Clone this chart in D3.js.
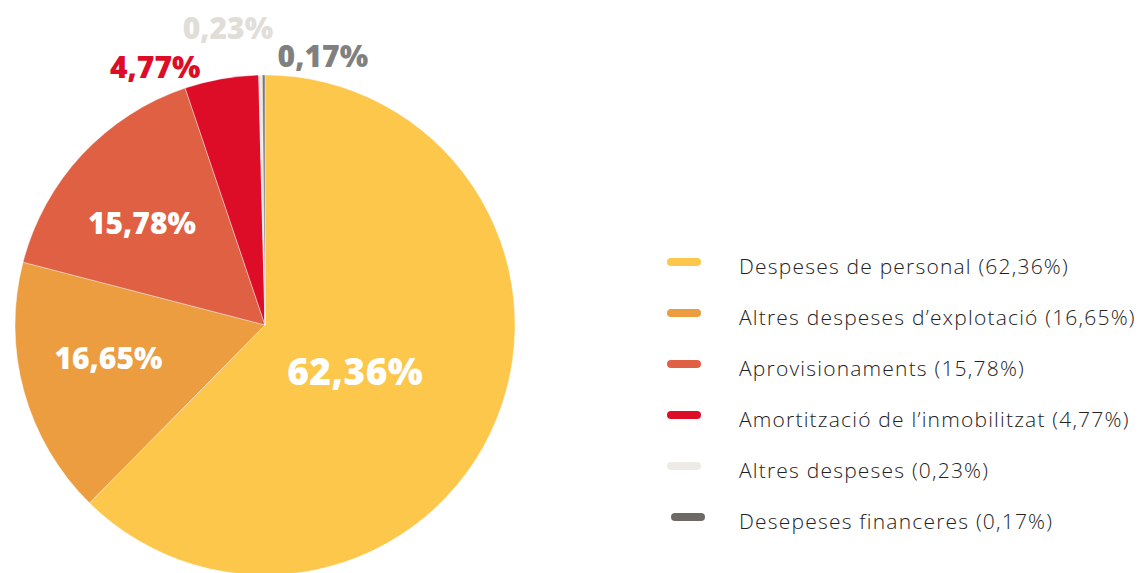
<!DOCTYPE html>
<html><head><meta charset="utf-8">
<script src="https://cdn.jsdelivr.net/npm/d3@7"></script>
<style>
html,body{margin:0;padding:0;background:#fff;overflow:hidden}
svg{display:block}
</style></head>
<body><svg id="c" width="1141" height="573"></svg>
<script>
// ---- data ----
const categories = ["Despeses de personal","Altres despeses d\u2019explotació","Aprovisionaments","Amortització de l\u2019inmobilitzat","Altres despeses","Desepeses financeres"];
const values = [62.36, 16.65, 15.78, 4.77, 0.23, 0.17];
const valueLabels = ["62,36%","16,65%","15,78%","4,77%","0,23%","0,17%"];
const legendLabels = ["Despeses de personal (62,36%)","Altres despeses d\u2019explotació (16,65%)","Aprovisionaments (15,78%)","Amortització de l\u2019inmobilitzat (4,77%)","Altres despeses (0,23%)","Desepeses financeres (0,17%)"];

// ---- styles / layout ----
const colors = ["#FCC74A","#EB9D40","#E06043","#DD0D27","#EEEBE6","#7B7675"];
const legendColors = ["#FCC74A","#EB9D40","#E06043","#DD0D27","#EEEBE6","#6E6867"];
const labelColors = ["#fff","#fff","#fff","#DD0D27","#E1DED9","#808080"];
const labelSizes = [37,30,30,30,30,30];
// label placement: radius & angle (degrees clockwise from top)
const labelPlace = [{r:101,a:116.6},{r:160,a:258.1},{r:160,a:309.7},{r:281,a:-23},{r:300,a:-7.1},{r:276,a:12.1}];

const svg = d3.select("#c");
const cx = 265, cy = 325, R = 250;
const g = svg.append("g").attr("transform",`translate(${cx},${cy})`);

const pie = d3.pie().sort(null).value(d=>d);
const arcs = pie(values);
const arc = d3.arc().innerRadius(0).outerRadius(R);

g.selectAll("path.slice").data(arcs).join("path")
  .attr("class","slice")
  .attr("d",arc)
  .attr("fill",(d,i)=>colors[i])
  .attr("stroke","#fff").attr("stroke-width",0.4);

g.selectAll("text.lbl").data(arcs).join("text")
  .attr("class","lbl")
  .attr("transform",(d,i)=>{
    const p = labelPlace[i];
    const a = p.a*Math.PI/180;
    return `translate(${p.r*Math.sin(a)},${-p.r*Math.cos(a)})`;
  })
  .attr("text-anchor","middle")
  .attr("dominant-baseline","central")
  .attr("font-family","'Open Sans', sans-serif")
  .attr("font-weight",800)
  .attr("font-size",(d,i)=>labelSizes[i])
  .attr("letter-spacing",(d,i)=>i===0?0.5:0)
  .attr("fill",(d,i)=>labelColors[i])
  .text((d,i)=>valueLabels[i]);

// legend
const ly = d3.scalePoint().domain(d3.range(categories.length)).range([266,521]);
const lg = svg.append("g");
const items = lg.selectAll("g").data(categories).join("g")
  .attr("transform",(d,i)=>`translate(0,${ly(i)})`);
items.append("line")
  .attr("x1",(d,i)=>i===5?675:671).attr("x2",(d,i)=>i===5?701:697)
  .attr("y1",-4).attr("y2",-4)
  .attr("stroke",(d,i)=>legendColors[i])
  .attr("stroke-width",8).attr("stroke-linecap","round");
items.append("text")
  .attr("x",739).attr("y",0)
  .attr("dominant-baseline","central")
  .attr("font-family","'Open Sans', sans-serif")
  .attr("font-weight",300)
  .attr("font-size",21)
  .attr("letter-spacing",1.2)
  .attr("fill","#222")
  .text((d,i)=>legendLabels[i]);
</script></body></html>
